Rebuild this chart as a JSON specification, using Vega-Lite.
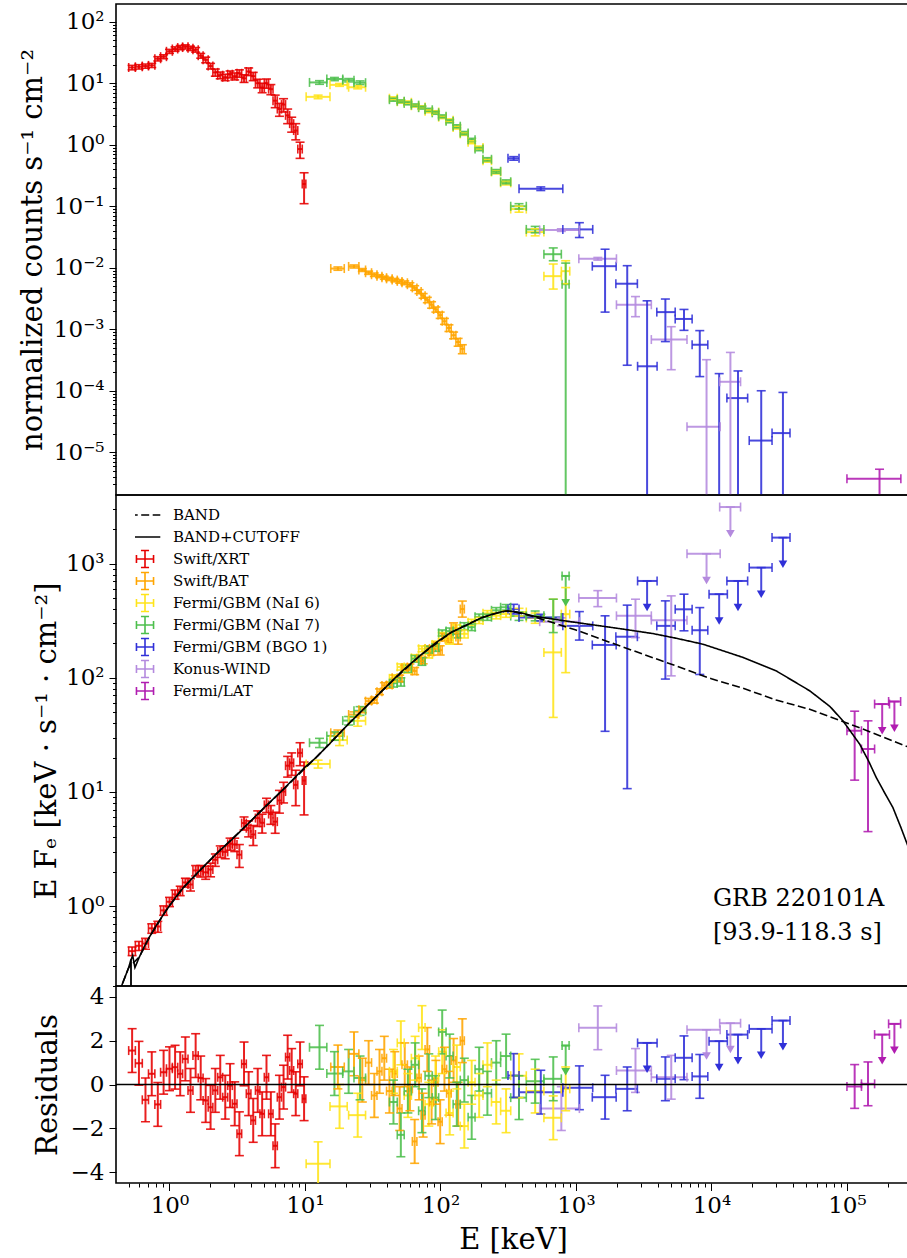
{
"$schema": "https://vega.github.io/schema/vega-lite/v6.json",
"background": "white",
"padding": {"left": 17, "top": 3, "right": 0, "bottom": 0},
"spacing": 0,
"bounds": "flush",
"config": {
  "view": {"stroke": "black", "strokeWidth": 1.6},
  "axis": {"domain": false, "grid": false, "tickColor": "black", "tickWidth": 1, "labelColor": "black", "labelFont": "DejaVu Serif", "labelFontSize": 23, "titleFont": "DejaVu Serif", "titleFontSize": 29, "titleFontWeight": "normal", "titleColor": "black", "labelFlush": false, "labelOverlap": false, "labelBound": false},
  "concat": {"spacing": 0}
},
"datasets": {
"pts": [
{"s":"Swift/XRT","e":0.53,"el":0.5,"eh":0.56,"c":18,"cl":16.5,"ch":19.5,"f":0.404,"fl":0.369,"fh":0.439,"r":1.55,"rl":0.55,"rh":2.55},
{"s":"Swift/XRT","e":0.595,"el":0.56,"eh":0.63,"c":18.5,"cl":17,"ch":20,"f":0.45,"fl":0.409,"fh":0.491,"r":0.97,"rl":-0.03,"rh":1.97},
{"s":"Swift/XRT","e":0.665,"el":0.63,"eh":0.7,"c":19,"cl":17.5,"ch":20.5,"f":0.471,"fl":0.42,"fh":0.522,"r":-0.7,"rl":-1.7,"rh":0.3},
{"s":"Swift/XRT","e":0.74,"el":0.7,"eh":0.78,"c":19.5,"cl":18,"ch":21,"f":0.64,"fl":0.579,"fh":0.701,"r":0.49,"rl":-0.51,"rh":1.49},
{"s":"Swift/XRT","e":0.82,"el":0.78,"eh":0.86,"c":25,"cl":23,"ch":27,"f":0.664,"fl":0.591,"fh":0.737,"r":-0.91,"rl":-1.91,"rh":0.09},
{"s":"Swift/XRT","e":0.905,"el":0.86,"eh":0.95,"c":27,"cl":25,"ch":29,"f":0.919,"fl":0.832,"fh":1.006,"r":0.56,"rl":-0.44,"rh":1.56},
{"s":"Swift/XRT","e":1.0,"el":0.95,"eh":1.05,"c":33,"cl":30.5,"ch":35.5,"f":1.093,"fl":0.991,"fh":1.195,"r":0.72,"rl":-0.28,"rh":1.72},
{"s":"Swift/XRT","e":1.1,"el":1.05,"eh":1.15,"c":36,"cl":33,"ch":39,"f":1.268,"fl":1.15,"fh":1.386,"r":0.79,"rl":-0.21,"rh":1.79},
{"s":"Swift/XRT","e":1.2,"el":1.15,"eh":1.25,"c":38,"cl":35,"ch":41,"f":1.366,"fl":1.236,"fh":1.496,"r":0.49,"rl":-0.51,"rh":1.49},
{"s":"Swift/XRT","e":1.31,"el":1.25,"eh":1.37,"c":39,"cl":36,"ch":42,"f":1.613,"fl":1.469,"fh":1.757,"r":1.17,"rl":0.17,"rh":2.17},
{"s":"Swift/XRT","e":1.43,"el":1.37,"eh":1.49,"c":37,"cl":34,"ch":40,"f":1.549,"fl":1.357,"fh":1.741,"r":-0.27,"rl":-1.27,"rh":0.73},
{"s":"Swift/XRT","e":1.56,"el":1.49,"eh":1.63,"c":35,"cl":32,"ch":38,"f":2.056,"fl":1.843,"fh":2.269,"r":1.32,"rl":0.32,"rh":2.32},
{"s":"Swift/XRT","e":1.7,"el":1.63,"eh":1.77,"c":28,"cl":25.5,"ch":30.5,"f":2.035,"fl":1.799,"fh":2.271,"r":0.3,"rl":-0.7,"rh":1.3},
{"s":"Swift/XRT","e":1.85,"el":1.77,"eh":1.93,"c":24,"cl":21.5,"ch":26.5,"f":1.98,"fl":1.72,"fh":2.24,"r":-0.73,"rl":-1.73,"rh":0.27},
{"s":"Swift/XRT","e":2.01,"el":1.93,"eh":2.09,"c":19,"cl":17,"ch":21,"f":2.095,"fl":1.808,"fh":2.382,"r":-1.04,"rl":-2.04,"rh":-0.04},
{"s":"Swift/XRT","e":2.18,"el":2.09,"eh":2.27,"c":15,"cl":13,"ch":17,"f":2.549,"fl":2.233,"fh":2.865,"r":-0.27,"rl":-1.27,"rh":0.73},
{"s":"Swift/XRT","e":2.37,"el":2.27,"eh":2.47,"c":13.5,"cl":11.8,"ch":15.2,"f":3.022,"fl":2.673,"fh":3.371,"r":0.33,"rl":-0.67,"rh":1.33},
{"s":"Swift/XRT","e":2.58,"el":2.47,"eh":2.69,"c":12.5,"cl":11,"ch":14,"f":2.989,"fl":2.603,"fh":3.375,"r":-0.58,"rl":-1.58,"rh":0.42},
{"s":"Swift/XRT","e":2.8,"el":2.69,"eh":2.91,"c":14,"cl":12.2,"ch":15.8,"f":3.518,"fl":3.093,"fh":3.943,"r":-0.05,"rl":-1.05,"rh":0.95},
{"s":"Swift/XRT","e":3.03,"el":2.91,"eh":3.15,"c":13,"cl":11.3,"ch":14.7,"f":3.474,"fl":3.008,"fh":3.94,"r":-0.88,"rl":-1.88,"rh":0.12},
{"s":"Swift/XRT","e":3.28,"el":3.15,"eh":3.41,"c":14.5,"cl":12.5,"ch":16.5,"f":2.825,"fl":2.185,"fh":3.465,"r":-2.25,"rl":-3.25,"rh":-1.25},
{"s":"Swift/XRT","e":3.55,"el":3.41,"eh":3.69,"c":12,"cl":10.3,"ch":13.7,"f":5.343,"fl":4.641,"fh":6.045,"r":0.94,"rl":-0.06,"rh":1.94},
{"s":"Swift/XRT","e":3.84,"el":3.69,"eh":3.99,"c":15.5,"cl":13.3,"ch":17.7,"f":4.816,"fl":4.045,"fh":5.587,"r":-0.42,"rl":-1.42,"rh":0.58},
{"s":"Swift/XRT","e":4.15,"el":3.99,"eh":4.31,"c":13,"cl":11,"ch":15,"f":4.244,"fl":3.399,"fh":5.089,"r":-1.64,"rl":-2.64,"rh":-0.64},
{"s":"Swift/XRT","e":4.48,"el":4.31,"eh":4.65,"c":10,"cl":8.4,"ch":11.6,"f":5.91,"fl":4.986,"fh":6.834,"r":-0.27,"rl":-1.27,"rh":0.73},
{"s":"Swift/XRT","e":4.83,"el":4.65,"eh":5.01,"c":8.5,"cl":7,"ch":10,"f":5.377,"fl":4.367,"fh":6.387,"r":-1.34,"rl":-2.34,"rh":-0.34},
{"s":"Swift/XRT","e":5.2,"el":5.01,"eh":5.39,"c":10,"cl":8.3,"ch":11.7,"f":7.713,"fl":6.613,"fh":8.813,"r":0.33,"rl":-0.67,"rh":1.33},
{"s":"Swift/XRT","e":5.6,"el":5.39,"eh":5.81,"c":8,"cl":6.5,"ch":9.5,"f":6.412,"fl":5.212,"fh":7.612,"r":-1.34,"rl":-2.34,"rh":-0.34},
{"s":"Swift/XRT","e":6.03,"el":5.81,"eh":6.25,"c":5.2,"cl":4,"ch":6.4,"f":5.5,"fl":4.35,"fh":6.65,"r":-2.8,"rl":-3.8,"rh":-1.8},
{"s":"Swift/XRT","e":6.48,"el":6.25,"eh":6.71,"c":3.8,"cl":2.9,"ch":4.7,"f":8.43,"fl":6.53,"fh":10.33,"r":-0.58,"rl":-1.58,"rh":0.42},
{"s":"Swift/XRT","e":6.95,"el":6.71,"eh":7.19,"c":4.5,"cl":3.4,"ch":5.6,"f":10.09,"fl":8.02,"fh":12.16,"r":-0.12,"rl":-1.12,"rh":0.88},
{"s":"Swift/XRT","e":7.45,"el":7.19,"eh":7.71,"c":3,"cl":2.2,"ch":3.8,"f":17,"fl":13.5,"fh":20.5,"r":1.25,"rl":0.25,"rh":2.25},
{"s":"Swift/XRT","e":7.98,"el":7.71,"eh":8.25,"c":2.2,"cl":1.6,"ch":2.8,"f":18,"fl":14,"fh":22,"r":0.64,"rl":-0.36,"rh":1.64},
{"s":"Swift/XRT","e":8.55,"el":8.25,"eh":8.85,"c":1.7,"cl":1.2,"ch":2.2,"f":11.55,"fl":7.59,"fh":15.51,"r":-0.42,"rl":-1.42,"rh":0.58},
{"s":"Swift/XRT","e":9.2,"el":8.85,"eh":9.55,"c":0.85,"cl":0.6,"ch":1.1,"f":22,"fl":17,"fh":27,"r":0.94,"rl":-0.06,"rh":1.94},
{"s":"Swift/XRT","e":9.85,"el":9.55,"eh":10.15,"c":0.23,"cl":0.11,"ch":0.35,"f":12.6,"fl":6.3,"fh":18.3,"r":-0.65,"rl":-1.65,"rh":0.35},

{"s":"Swift/BAT","e":17.5,"el":15.5,"eh":19.5,"c":0.0097,"cl":0.0091,"ch":0.0103,"f":33.0,"fl":31.1,"fh":34.9,"r":0.8,"rl":-0.2,"rh":1.8},
{"s":"Swift/BAT","e":23,"el":21,"eh":25,"c":0.0105,"cl":0.0099,"ch":0.0111,"f":47.7,"fl":45.1,"fh":50.3,"r":1.4,"rl":0.4,"rh":2.4},
{"s":"Swift/BAT","e":26.5,"el":25,"eh":28,"c":0.0092,"cl":0.0087,"ch":0.0097,"f":52.6,"fl":49.5,"fh":55.7,"r":0.2,"rl":-0.8,"rh":1.2},
{"s":"Swift/BAT","e":29.5,"el":28,"eh":31,"c":0.0083,"cl":0.0078,"ch":0.0088,"f":62.5,"fl":59,"fh":66,"r":1.0,"rl":0,"rh":2},
{"s":"Swift/BAT","e":32.5,"el":31,"eh":34,"c":0.0077,"cl":0.0072,"ch":0.0082,"f":64,"fl":60,"fh":68,"r":-0.5,"rl":-1.5,"rh":0.5},
{"s":"Swift/BAT","e":35.5,"el":34,"eh":37,"c":0.0073,"cl":0.0069,"ch":0.0077,"f":75.6,"fl":71.2,"fh":80,"r":0.6,"rl":-0.4,"rh":1.6},
{"s":"Swift/BAT","e":38.5,"el":37,"eh":40,"c":0.0069,"cl":0.0065,"ch":0.0073,"f":85.8,"fl":81,"fh":90.6,"r":1.2,"rl":0.2,"rh":2.2},
{"s":"Swift/BAT","e":42,"el":40,"eh":44,"c":0.0066,"cl":0.0062,"ch":0.007,"f":86.4,"fl":81.1,"fh":91.7,"r":-0.3,"rl":-1.3,"rh":0.7},
{"s":"Swift/BAT","e":46,"el":44,"eh":48,"c":0.0063,"cl":0.0059,"ch":0.0067,"f":99.9,"fl":94.1,"fh":105.7,"r":0.5,"rl":-0.5,"rh":1.5},
{"s":"Swift/BAT","e":50,"el":48,"eh":52,"c":0.006,"cl":0.0056,"ch":0.0064,"f":99,"fl":92.6,"fh":105.4,"r":-1.1,"rl":-2.1,"rh":-0.1},
{"s":"Swift/BAT","e":54.5,"el":52,"eh":57,"c":0.0057,"cl":0.0053,"ch":0.0061,"f":122.3,"fl":115.3,"fh":129.3,"r":0.9,"rl":-0.1,"rh":1.9},
{"s":"Swift/BAT","e":59.5,"el":57,"eh":62,"c":0.0053,"cl":0.0049,"ch":0.0057,"f":124.5,"fl":116.9,"fh":132.1,"r":-0.2,"rl":-1.2,"rh":0.8},
{"s":"Swift/BAT","e":64.5,"el":62,"eh":67,"c":0.0047,"cl":0.0043,"ch":0.0051,"f":114.8,"fl":106.6,"fh":123,"r":-2.6,"rl":-3.6,"rh":-1.6},
{"s":"Swift/BAT","e":69.5,"el":67,"eh":72,"c":0.0041,"cl":0.0038,"ch":0.0044,"f":148.6,"fl":139.8,"fh":157.4,"r":0.3,"rl":-0.7,"rh":1.3},
{"s":"Swift/BAT","e":74.5,"el":72,"eh":77,"c":0.0035,"cl":0.0032,"ch":0.0038,"f":142,"fl":132.7,"fh":151.3,"r":-1.4,"rl":-2.4,"rh":-0.4},
{"s":"Swift/BAT","e":80,"el":77,"eh":83,"c":0.003,"cl":0.0027,"ch":0.0033,"f":180.8,"fl":170.9,"fh":190.7,"r":1.6,"rl":0.6,"rh":2.6},
{"s":"Swift/BAT","e":86,"el":83,"eh":89,"c":0.0025,"cl":0.0022,"ch":0.0028,"f":168.5,"fl":157.9,"fh":179.1,"r":-0.8,"rl":-1.8,"rh":0.2},
{"s":"Swift/BAT","e":92.5,"el":89,"eh":96,"c":0.0021,"cl":0.0019,"ch":0.0023,"f":191.1,"fl":179.7,"fh":202.5,"r":0.1,"rl":-0.9,"rh":1.1},
{"s":"Swift/BAT","e":99.5,"el":96,"eh":103,"c":0.0017,"cl":0.0015,"ch":0.0019,"f":174.5,"fl":158.3,"fh":190.7,"r":-1.7,"rl":-2.7,"rh":-0.7},
{"s":"Swift/BAT","e":107,"el":103,"eh":111,"c":0.00135,"cl":0.0012,"ch":0.0015,"f":227,"fl":209.8,"fh":244.2,"r":0.7,"rl":-0.3,"rh":1.7},
{"s":"Swift/BAT","e":115.5,"el":111,"eh":120,"c":0.00105,"cl":0.00092,"ch":0.00118,"f":220.7,"fl":202.5,"fh":238.9,"r":-0.4,"rl":-1.4,"rh":0.6},
{"s":"Swift/BAT","e":125,"el":120,"eh":130,"c":0.0008,"cl":0.0007,"ch":0.0009,"f":274,"fl":245,"fh":303,"r":1.1,"rl":0.1,"rh":2.1},
{"s":"Swift/BAT","e":135,"el":130,"eh":140,"c":0.00062,"cl":0.00053,"ch":0.00071,"f":227.5,"fl":196.9,"fh":258.1,"r":-0.9,"rl":-1.9,"rh":0.1},
{"s":"Swift/BAT","e":145,"el":140,"eh":150,"c":0.00048,"cl":0.0004,"ch":0.00056,"f":400,"fl":340,"fh":470,"r":2.0,"rl":1.0,"rh":3.0},

{"s":"Fermi/GBM (NaI 6)","e":12.5,"el":10.2,"eh":15.3,"c":6.0,"cl":5.6,"ch":6.4,"f":17.6,"fl":16.2,"fh":19,"r":-3.62,"rl":-4.62,"rh":-2.62},
{"s":"Fermi/GBM (NaI 6)","e":18,"el":15.3,"eh":20.5,"c":9.4,"cl":8.9,"ch":9.9,"f":28.5,"fl":25.5,"fh":31.5,"r":-1.0,"rl":-2.0,"rh":0},
{"s":"Fermi/GBM (NaI 6)","e":24.5,"el":21,"eh":28,"c":8.6,"cl":8.1,"ch":9.1,"f":42,"fl":37.7,"fh":46.3,"r":-1.4,"rl":-2.4,"rh":-0.4},
{"s":"Fermi/GBM (NaI 6)","e":45,"el":42,"eh":48,"c":5.7,"cl":5.4,"ch":6.0,"f":99,"fl":92.3,"fh":105.6,"r":0.6,"rl":-0.4,"rh":1.6},
{"s":"Fermi/GBM (NaI 6)","e":51,"el":48,"eh":54,"c":5.0,"cl":4.75,"ch":5.25,"f":124.6,"fl":116.9,"fh":132.3,"r":1.9,"rl":0.9,"rh":2.9},
{"s":"Fermi/GBM (NaI 6)","e":57.5,"el":54,"eh":61,"c":4.9,"cl":4.65,"ch":5.15,"f":118.7,"fl":110.1,"fh":127.3,"r":-0.5,"rl":-1.5,"rh":0.5},
{"s":"Fermi/GBM (NaI 6)","e":65,"el":61,"eh":69,"c":4.3,"cl":4.1,"ch":4.5,"f":149.6,"fl":139.9,"fh":159.3,"r":1.2,"rl":0.2,"rh":2.2},
{"s":"Fermi/GBM (NaI 6)","e":73,"el":69,"eh":77,"c":4.1,"cl":3.9,"ch":4.3,"f":179.7,"fl":169.1,"fh":190.3,"r":2.6,"rl":1.6,"rh":3.6},
{"s":"Fermi/GBM (NaI 6)","e":82,"el":77,"eh":87,"c":3.5,"cl":3.32,"ch":3.68,"f":161.2,"fl":149.2,"fh":173.2,"r":-0.9,"rl":-1.9,"rh":0.1},
{"s":"Fermi/GBM (NaI 6)","e":92,"el":87,"eh":97,"c":3.4,"cl":3.23,"ch":3.57,"f":196,"fl":182.6,"fh":209.4,"r":0.3,"rl":-0.7,"rh":1.3},
{"s":"Fermi/GBM (NaI 6)","e":103,"el":97,"eh":110,"c":2.8,"cl":2.66,"ch":2.94,"f":234.3,"fl":219.5,"fh":249.1,"r":1.5,"rl":0.5,"rh":2.5},
{"s":"Fermi/GBM (NaI 6)","e":117,"el":110,"eh":124,"c":2.5,"cl":2.37,"ch":2.63,"f":213.6,"fl":197.1,"fh":230.1,"r":-1.3,"rl":-2.3,"rh":-0.3},
{"s":"Fermi/GBM (NaI 6)","e":132,"el":124,"eh":140,"c":1.9,"cl":1.8,"ch":2.0,"f":272.4,"fl":254.4,"fh":290.4,"r":0.8,"rl":-0.2,"rh":1.8},
{"s":"Fermi/GBM (NaI 6)","e":150,"el":140,"eh":160,"c":1.5,"cl":1.42,"ch":1.58,"f":242.8,"fl":223.2,"fh":262.4,"r":-1.9,"rl":-2.9,"rh":-0.9},
{"s":"Fermi/GBM (NaI 6)","e":170,"el":160,"eh":180,"c":1.1,"cl":1.04,"ch":1.16,"f":306.8,"fl":288.5,"fh":325.1,"r":0.1,"rl":-0.9,"rh":1.1},
{"s":"Fermi/GBM (NaI 6)","e":193,"el":180,"eh":206,"c":0.9,"cl":0.85,"ch":0.95,"f":318.2,"fl":298.5,"fh":337.9,"r":-0.5,"rl":-1.5,"rh":0.5},
{"s":"Fermi/GBM (NaI 6)","e":222,"el":206,"eh":238,"c":0.55,"cl":0.52,"ch":0.58,"f":366.8,"fl":345.9,"fh":387.7,"r":0.9,"rl":-0.1,"rh":1.9},
{"s":"Fermi/GBM (NaI 6)","e":258,"el":238,"eh":278,"c":0.36,"cl":0.335,"ch":0.385,"f":350.3,"fl":328.3,"fh":372.3,"r":-0.8,"rl":-1.8,"rh":0.2},
{"s":"Fermi/GBM (NaI 6)","e":305,"el":278,"eh":330,"c":0.24,"cl":0.222,"ch":0.258,"f":361.9,"fl":338.9,"fh":384.9,"r":-1.2,"rl":-2.2,"rh":-0.2},
{"s":"Fermi/GBM (NaI 6)","e":380,"el":330,"eh":430,"c":0.09,"cl":0.08,"ch":0.1,"f":376.7,"fl":347.5,"fh":405.9,"r":0.4,"rl":-0.6,"rh":1.4},
{"s":"Fermi/GBM (NaI 6)","e":500,"el":430,"eh":580,"c":0.038,"cl":0.033,"ch":0.043,"f":334.7,"fl":300.2,"fh":369.2,"r":-0.3,"rl":-1.3,"rh":0.7},
{"s":"Fermi/GBM (NaI 6)","e":680,"el":580,"eh":780,"c":0.0073,"cl":0.0045,"ch":0.0115,"f":167,"fl":45,"fh":488,"r":-1.52,"rl":-2.52,"rh":-0.52},
{"s":"Fermi/GBM (NaI 6)","e":840,"el":780,"eh":900,"c":0.0088,"cl":0.0055,"ch":0.013,"f":361,"fl":111,"fh":617,"r":-0.2,"rl":-1.2,"rh":0.8},

{"s":"Fermi/GBM (NaI 7)","e":12.8,"el":10.8,"eh":14.5,"c":10.3,"cl":9.6,"ch":11,"f":27,"fl":24.5,"fh":29.5,"r":1.7,"rl":0.7,"rh":2.7},
{"s":"Fermi/GBM (NaI 7)","e":16.5,"el":14.5,"eh":19,"c":11.7,"cl":11,"ch":12.4,"f":31,"fl":28.4,"fh":33.6,"r":0.5,"rl":-0.5,"rh":1.5},
{"s":"Fermi/GBM (NaI 7)","e":21,"el":19,"eh":23,"c":11.2,"cl":10.5,"ch":11.9,"f":42.2,"fl":38.6,"fh":45.8,"r":0.6,"rl":-0.4,"rh":1.6},
{"s":"Fermi/GBM (NaI 7)","e":25.5,"el":23,"eh":28,"c":10.2,"cl":9.5,"ch":10.9,"f":51.4,"fl":46.9,"fh":55.9,"r":0.3,"rl":-0.7,"rh":1.3},
{"s":"Fermi/GBM (NaI 7)","e":45,"el":42,"eh":48,"c":5.4,"cl":5.1,"ch":5.7,"f":89.7,"fl":83,"fh":96.4,"r":-0.8,"rl":-1.8,"rh":0.2},
{"s":"Fermi/GBM (NaI 7)","e":51,"el":48,"eh":54,"c":5.1,"cl":4.85,"ch":5.35,"f":92.3,"fl":84.6,"fh":100,"r":-2.3,"rl":-3.3,"rh":-1.3},
{"s":"Fermi/GBM (NaI 7)","e":57.5,"el":54,"eh":61,"c":4.7,"cl":4.45,"ch":4.95,"f":120.4,"fl":111.8,"fh":129,"r":-0.3,"rl":-1.3,"rh":0.7},
{"s":"Fermi/GBM (NaI 7)","e":65,"el":61,"eh":69,"c":4.4,"cl":4.2,"ch":4.6,"f":146.7,"fl":137,"fh":156.4,"r":0.9,"rl":-0.1,"rh":1.9},
{"s":"Fermi/GBM (NaI 7)","e":73,"el":69,"eh":77,"c":4.0,"cl":3.8,"ch":4.2,"f":139.3,"fl":128.7,"fh":149.9,"r":-1.2,"rl":-2.2,"rh":-0.2},
{"s":"Fermi/GBM (NaI 7)","e":82,"el":77,"eh":87,"c":3.7,"cl":3.5,"ch":3.9,"f":176.8,"fl":164.8,"fh":188.8,"r":0.4,"rl":-0.6,"rh":1.4},
{"s":"Fermi/GBM (NaI 7)","e":92,"el":87,"eh":97,"c":3.3,"cl":3.13,"ch":3.47,"f":184,"fl":170.6,"fh":197.4,"r":-0.6,"rl":-1.6,"rh":0.4},
{"s":"Fermi/GBM (NaI 7)","e":103,"el":97,"eh":110,"c":2.9,"cl":2.75,"ch":3.05,"f":247.5,"fl":232.7,"fh":262.3,"r":2.4,"rl":1.4,"rh":3.4},
{"s":"Fermi/GBM (NaI 7)","e":117,"el":110,"eh":124,"c":2.4,"cl":2.27,"ch":2.53,"f":256.4,"fl":239.9,"fh":272.9,"r":1.3,"rl":0.3,"rh":2.3},
{"s":"Fermi/GBM (NaI 7)","e":132,"el":124,"eh":140,"c":2.0,"cl":1.89,"ch":2.11,"f":241.8,"fl":223.8,"fh":259.8,"r":-0.9,"rl":-1.9,"rh":0.1},
{"s":"Fermi/GBM (NaI 7)","e":150,"el":140,"eh":160,"c":1.55,"cl":1.46,"ch":1.64,"f":284,"fl":264.4,"fh":303.6,"r":0.2,"rl":-0.8,"rh":1.2},
{"s":"Fermi/GBM (NaI 7)","e":170,"el":160,"eh":180,"c":1.2,"cl":1.13,"ch":1.27,"f":277.6,"fl":259.3,"fh":295.9,"r":-1.5,"rl":-2.5,"rh":-0.5},
{"s":"Fermi/GBM (NaI 7)","e":193,"el":180,"eh":206,"c":0.85,"cl":0.8,"ch":0.9,"f":341.8,"fl":322.1,"fh":361.5,"r":0.7,"rl":-0.3,"rh":1.7},
{"s":"Fermi/GBM (NaI 7)","e":222,"el":206,"eh":238,"c":0.58,"cl":0.545,"ch":0.615,"f":339.6,"fl":318.7,"fh":360.5,"r":-0.4,"rl":-1.4,"rh":0.6},
{"s":"Fermi/GBM (NaI 7)","e":258,"el":238,"eh":278,"c":0.37,"cl":0.345,"ch":0.395,"f":390,"fl":368,"fh":412,"r":1.0,"rl":0,"rh":2},
{"s":"Fermi/GBM (NaI 7)","e":305,"el":278,"eh":330,"c":0.25,"cl":0.232,"ch":0.268,"f":415,"fl":392,"fh":438,"r":1.3,"rl":0.3,"rh":2.3},
{"s":"Fermi/GBM (NaI 7)","e":380,"el":330,"eh":430,"c":0.1,"cl":0.09,"ch":0.11,"f":347.5,"fl":318.3,"fh":376.7,"r":-0.6,"rl":-1.6,"rh":0.4},
{"s":"Fermi/GBM (NaI 7)","e":500,"el":430,"eh":580,"c":0.042,"cl":0.037,"ch":0.047,"f":350,"fl":315.5,"fh":384.5,"r":0.15,"rl":-0.85,"rh":1.15},
{"s":"Fermi/GBM (NaI 7)","e":680,"el":580,"eh":780,"c":0.0166,"cl":0.013,"ch":0.021,"f":337,"fl":249,"fh":488,"r":0.26,"rl":-0.74,"rh":1.26},
{"s":"Fermi/GBM (NaI 7)","e":840,"el":790,"eh":890,"c":0.0054,"cl":1e-7,"ch":0.0119,"f":780,"fl":455,"fh":780,"r":1.78,"rl":0.58,"rh":1.78,"u":1},

{"s":"Fermi/GBM (BGO 1)","e":347,"el":315,"eh":380,"c":0.6,"cl":0.56,"ch":0.64,"f":400,"fl":362,"fh":440,"r":0.41,"rl":-0.59,"rh":1.41},
{"s":"Fermi/GBM (BGO 1)","e":550,"el":380,"eh":800,"c":0.193,"cl":0.18,"ch":0.206,"f":337,"fl":315,"fh":360,"r":-0.35,"rl":-1.35,"rh":0.65},
{"s":"Fermi/GBM (BGO 1)","e":1060,"el":800,"eh":1330,"c":0.042,"cl":0.031,"ch":0.054,"f":285,"fl":214,"fh":380,"r":-0.15,"rl":-1.15,"rh":0.85},
{"s":"Fermi/GBM (BGO 1)","e":1640,"el":1320,"eh":1980,"c":0.0106,"cl":0.0019,"ch":0.02,"f":194,"fl":34,"fh":349,"r":-0.58,"rl":-1.58,"rh":0.42},
{"s":"Fermi/GBM (BGO 1)","e":2390,"el":1970,"eh":2840,"c":0.0055,"cl":0.00026,"ch":0.0108,"f":229,"fl":10.7,"fh":433,"r":-0.2,"rl":-1.2,"rh":0.8},
{"s":"Fermi/GBM (BGO 1)","e":3350,"el":2850,"eh":3970,"c":0.00025,"cl":1e-7,"ch":0.0029,"f":705,"fl":412,"fh":705,"r":1.9,"rl":0.7,"rh":1.9,"u":1},
{"s":"Fermi/GBM (BGO 1)","e":4570,"el":3950,"eh":5400,"c":0.0019,"cl":0.00063,"ch":0.0031,"f":285,"fl":97.5,"fh":472,"r":0.26,"rl":-0.74,"rh":1.26},
{"s":"Fermi/GBM (BGO 1)","e":6270,"el":5400,"eh":7200,"c":0.00147,"cl":0.00096,"ch":0.0021,"f":398,"fl":258,"fh":540,"r":1.22,"rl":0.22,"rh":2.22},
{"s":"Fermi/GBM (BGO 1)","e":8200,"el":7200,"eh":9400,"c":0.00056,"cl":0.00017,"ch":0.00095,"f":261,"fl":107,"fh":412,"r":0.37,"rl":-0.63,"rh":1.37},
{"s":"Fermi/GBM (BGO 1)","e":11400,"el":9600,"eh":13100,"c":1e-7,"cl":1e-7,"ch":0.00019,"f":540,"fl":315,"fh":540,"r":1.98,"rl":0.78,"rh":1.98,"u":1},
{"s":"Fermi/GBM (BGO 1)","e":15700,"el":13000,"eh":18500,"c":7.6e-5,"cl":1e-7,"ch":0.00021,"f":705,"fl":412,"fh":705,"r":2.28,"rl":1.08,"rh":2.28,"u":1},
{"s":"Fermi/GBM (BGO 1)","e":23300,"el":19000,"eh":28000,"c":1.55e-5,"cl":1e-7,"ch":0.0001,"f":923,"fl":539,"fh":923,"r":2.54,"rl":1.34,"rh":2.54,"u":1},
{"s":"Fermi/GBM (BGO 1)","e":33700,"el":28000,"eh":38000,"c":2.05e-5,"cl":1e-7,"ch":9.4e-5,"f":1690,"fl":987,"fh":1690,"r":2.92,"rl":1.72,"rh":2.92,"u":1},

{"s":"Konus-WIND","e":780,"el":540,"eh":1060,"c":0.041,"cl":0.039,"ch":0.043,"f":310,"fl":285,"fh":335,"r":-1.1,"rl":-2.1,"rh":-0.1},
{"s":"Konus-WIND","e":1450,"el":1050,"eh":1990,"c":0.014,"cl":0.0133,"ch":0.0147,"f":500,"fl":420,"fh":580,"r":2.59,"rl":1.59,"rh":3.59},
{"s":"Konus-WIND","e":2750,"el":1990,"eh":3600,"c":0.0025,"cl":0.0016,"ch":0.0034,"f":349,"fl":225,"fh":488,"r":0.64,"rl":-0.36,"rh":1.64},
{"s":"Konus-WIND","e":5050,"el":3600,"eh":6600,"c":0.00068,"cl":0.00022,"ch":0.0011,"f":320,"fl":104,"fh":522,"r":0.33,"rl":-0.67,"rh":1.33},
{"s":"Konus-WIND","e":9200,"el":6600,"eh":11600,"c":2.6e-5,"cl":1e-7,"ch":0.00032,"f":1220,"fl":712,"fh":1220,"r":2.5,"rl":1.3,"rh":2.5,"u":1},
{"s":"Konus-WIND","e":13800,"el":11500,"eh":16400,"c":0.00014,"cl":1e-7,"ch":0.00042,"f":3130,"fl":1828,"fh":3130,"r":2.8,"rl":1.6,"rh":2.8,"u":1},

{"s":"Fermi/LAT","e":174000,"el":100000,"eh":250000,"c":3.7e-6,"cl":1e-7,"ch":5.3e-6},
{"s":"Fermi/LAT","e":114000,"el":100000,"eh":128000,"f":34.4,"fl":12.7,"fh":51,"r":-0.09,"rl":-1.09,"rh":0.91},
{"s":"Fermi/LAT","e":143000,"el":128000,"eh":160000,"f":23.8,"fl":4.5,"fh":42,"r":0.03,"rl":-0.97,"rh":1.03},
{"s":"Fermi/LAT","e":182000,"el":160000,"eh":206000,"f":58.9,"fl":34.4,"fh":58.9,"r":2.28,"rl":1.08,"rh":2.28,"u":1},
{"s":"Fermi/LAT","e":224000,"el":203000,"eh":249000,"f":62,"fl":36.2,"fh":62,"r":2.77,"rl":1.57,"rh":2.77,"u":1}
],
"model": [
{"s":"BAND+CUTOFF","e":0.42,"f":0.17},{"s":"BAND+CUTOFF","e":0.5,"f":0.29},{"s":"BAND+CUTOFF","e":0.519,"f":0.34},{"s":"BAND+CUTOFF","e":0.5195,"f":0.005},{"s":"BAND+CUTOFF","e":0.521,"f":0.34},{"s":"BAND+CUTOFF","e":0.535,"f":0.37},{"s":"BAND+CUTOFF","e":0.556,"f":0.29},{"s":"BAND+CUTOFF","e":0.6,"f":0.36},{"s":"BAND+CUTOFF","e":0.65,"f":0.44},{"s":"BAND+CUTOFF","e":0.71,"f":0.535},{"s":"BAND+CUTOFF","e":0.8,"f":0.68},{"s":"BAND+CUTOFF","e":0.94,"f":0.91},{"s":"BAND+CUTOFF","e":1.1,"f":1.18},{"s":"BAND+CUTOFF","e":1.25,"f":1.43},{"s":"BAND+CUTOFF","e":1.6,"f":1.95},{"s":"BAND+CUTOFF","e":2.2,"f":2.85},{"s":"BAND+CUTOFF","e":3.0,"f":4.0},{"s":"BAND+CUTOFF","e":3.88,"f":5.4},{"s":"BAND+CUTOFF","e":5.0,"f":7.3},{"s":"BAND+CUTOFF","e":6.84,"f":10.4},{"s":"BAND+CUTOFF","e":10,"f":16.5},{"s":"BAND+CUTOFF","e":12.05,"f":20},{"s":"BAND+CUTOFF","e":15,"f":26},{"s":"BAND+CUTOFF","e":21.2,"f":40},{"s":"BAND+CUTOFF","e":30,"f":60},{"s":"BAND+CUTOFF","e":40,"f":84},{"s":"BAND+CUTOFF","e":51,"f":112},{"s":"BAND+CUTOFF","e":70,"f":155},{"s":"BAND+CUTOFF","e":93,"f":204},{"s":"BAND+CUTOFF","e":120,"f":250},{"s":"BAND+CUTOFF","e":164,"f":298},{"s":"BAND+CUTOFF","e":200,"f":335},{"s":"BAND+CUTOFF","e":244,"f":362},{"s":"BAND+CUTOFF","e":280,"f":378},{"s":"BAND+CUTOFF","e":310,"f":385},{"s":"BAND+CUTOFF","e":350,"f":380},{"s":"BAND+CUTOFF","e":400,"f":368},{"s":"BAND+CUTOFF","e":500,"f":345},{"s":"BAND+CUTOFF","e":700,"f":325},{"s":"BAND+CUTOFF","e":1005,"f":305},{"s":"BAND+CUTOFF","e":2000,"f":272},{"s":"BAND+CUTOFF","e":3700,"f":244},{"s":"BAND+CUTOFF","e":5500,"f":222},{"s":"BAND+CUTOFF","e":8650,"f":197},{"s":"BAND+CUTOFF","e":17060,"f":151},{"s":"BAND+CUTOFF","e":30060,"f":115},{"s":"BAND+CUTOFF","e":53080,"f":77},{"s":"BAND+CUTOFF","e":75000,"f":56},{"s":"BAND+CUTOFF","e":93370,"f":42},{"s":"BAND+CUTOFF","e":124100,"f":26.3},{"s":"BAND+CUTOFF","e":145000,"f":18.5},{"s":"BAND+CUTOFF","e":164500,"f":13.4},{"s":"BAND+CUTOFF","e":190000,"f":9.8},{"s":"BAND+CUTOFF","e":218500,"f":7.3},{"s":"BAND+CUTOFF","e":250000,"f":4.9},{"s":"BAND+CUTOFF","e":290300,"f":3.07},{"s":"BAND+CUTOFF","e":330000,"f":1.7},
{"s":"BAND","e":0.42,"f":0.17},{"s":"BAND","e":0.5,"f":0.29},{"s":"BAND","e":0.6,"f":0.36},{"s":"BAND","e":0.71,"f":0.535},{"s":"BAND","e":0.94,"f":0.91},{"s":"BAND","e":1.25,"f":1.43},{"s":"BAND","e":2.2,"f":2.85},{"s":"BAND","e":3.88,"f":5.4},{"s":"BAND","e":6.84,"f":10.4},{"s":"BAND","e":12.05,"f":20},{"s":"BAND","e":21.2,"f":40},{"s":"BAND","e":40,"f":84},{"s":"BAND","e":70,"f":155},{"s":"BAND","e":120,"f":250},{"s":"BAND","e":200,"f":335},{"s":"BAND","e":280,"f":378},{"s":"BAND","e":310,"f":385},{"s":"BAND","e":350,"f":378},{"s":"BAND","e":400,"f":365},{"s":"BAND","e":500,"f":340},{"s":"BAND","e":700,"f":300},{"s":"BAND","e":1000,"f":262},{"s":"BAND","e":1773,"f":205},{"s":"BAND","e":3700,"f":150},{"s":"BAND","e":5500,"f":127},{"s":"BAND","e":10000,"f":98},{"s":"BAND","e":17060,"f":81},{"s":"BAND","e":30000,"f":64},{"s":"BAND","e":53080,"f":53},{"s":"BAND","e":124100,"f":36.5},{"s":"BAND","e":290300,"f":24.5},{"s":"BAND","e":330000,"f":23.3}
]
},
"resolve": {"scale": {"color": "independent", "x": "independent", "y": "independent"}, "legend": {"color": "independent"}},
"vconcat": [
{
  "width": 794, "height": 491,
  "data": {"name": "pts"},
  "transform": [{"filter": "isValid(datum.c)"}],
  "layer": [
    {"mark": {"type": "rule", "clip": true, "strokeWidth": 2, "opacity": 0.88},
     "encoding": {
       "x": {"field": "el", "type": "quantitative", "scale": {"type": "log", "domain": [0.403, 292000], "nice": false}, "axis": null},
       "x2": {"field": "eh"},
       "y": {"field": "c", "type": "quantitative", "scale": {"type": "log", "domain": [2.02e-6, 194], "nice": false},
             "axis": {"title": "normalized counts s⁻¹ cm⁻²", "titlePadding": 6, "labelPadding": 5,
               "values": [3e-6,4e-6,5e-6,6e-6,7e-6,8e-6,9e-6,1e-5,2e-5,3e-5,4e-5,5e-5,6e-5,7e-5,8e-5,9e-5,1e-4,2e-4,3e-4,4e-4,5e-4,6e-4,7e-4,8e-4,9e-4,0.001,0.002,0.003,0.004,0.005,0.006,0.007,0.008,0.009,0.01,0.02,0.03,0.04,0.05,0.06,0.07,0.08,0.09,0.1,0.2,0.3,0.4,0.5,0.6,0.7,0.8,0.9,1,2,3,4,5,6,7,8,9,10,20,30,40,50,60,70,80,90,100],
               "labelExpr": "abs(log(datum.value)/LN10 - round(log(datum.value)/LN10)) < 0.01 ? '10' + ['⁻⁵','⁻⁴','⁻³','⁻²','⁻¹','⁰','¹','²','³','⁴','⁵'][round(log(datum.value)/LN10) + 5] : ''",
               "tickSize": {"condition": {"test": "abs(log(datum.value)/LN10 - round(log(datum.value)/LN10)) < 0.01", "value": 7}, "value": 3.5}}},
       "color": {"field": "s", "type": "nominal", "legend": null, "scale": {"domain": ["BAND","BAND+CUTOFF","Swift/XRT","Swift/BAT","Fermi/GBM (NaI 6)","Fermi/GBM (NaI 7)","Fermi/GBM (BGO 1)","Konus-WIND","Fermi/LAT"], "range": ["#000000","#000000","#e60000","#ffa500","#ffe419","#4dbf4d","#3030d8","#b48ade","#b01cb0"]}}
     }},
    {"mark": {"type": "rule", "clip": true, "strokeWidth": 2, "opacity": 0.88},
     "encoding": {
       "x": {"field": "e", "type": "quantitative", "scale": {"type": "log", "domain": [0.403, 292000], "nice": false}, "axis": null},
       "y": {"field": "cl", "type": "quantitative", "scale": {"type": "log", "domain": [2.02e-6, 194], "nice": false}},
       "y2": {"field": "ch"},
       "color": {"field": "s", "type": "nominal", "legend": null, "scale": {"domain": ["BAND","BAND+CUTOFF","Swift/XRT","Swift/BAT","Fermi/GBM (NaI 6)","Fermi/GBM (NaI 7)","Fermi/GBM (BGO 1)","Konus-WIND","Fermi/LAT"], "range": ["#000000","#000000","#e60000","#ffa500","#ffe419","#4dbf4d","#3030d8","#b48ade","#b01cb0"]}}
     }},
    {"mark": {"type": "tick", "orient": "horizontal", "size": 9, "thickness": 1.6, "clip": true, "opacity": 0.88},
     "encoding": {
       "x": {"field": "e", "type": "quantitative", "scale": {"type": "log", "domain": [0.403, 292000], "nice": false}, "axis": null},
       "y": {"field": "cl", "type": "quantitative", "scale": {"type": "log", "domain": [2.02e-6, 194], "nice": false}},
       "color": {"field": "s", "type": "nominal", "legend": null, "scale": {"domain": ["BAND","BAND+CUTOFF","Swift/XRT","Swift/BAT","Fermi/GBM (NaI 6)","Fermi/GBM (NaI 7)","Fermi/GBM (BGO 1)","Konus-WIND","Fermi/LAT"], "range": ["#000000","#000000","#e60000","#ffa500","#ffe419","#4dbf4d","#3030d8","#b48ade","#b01cb0"]}}
     }},
    {"mark": {"type": "tick", "orient": "horizontal", "size": 9, "thickness": 1.6, "clip": true, "opacity": 0.88},
     "encoding": {
       "x": {"field": "e", "type": "quantitative", "scale": {"type": "log", "domain": [0.403, 292000], "nice": false}, "axis": null},
       "y": {"field": "ch", "type": "quantitative", "scale": {"type": "log", "domain": [2.02e-6, 194], "nice": false}},
       "color": {"field": "s", "type": "nominal", "legend": null, "scale": {"domain": ["BAND","BAND+CUTOFF","Swift/XRT","Swift/BAT","Fermi/GBM (NaI 6)","Fermi/GBM (NaI 7)","Fermi/GBM (BGO 1)","Konus-WIND","Fermi/LAT"], "range": ["#000000","#000000","#e60000","#ffa500","#ffe419","#4dbf4d","#3030d8","#b48ade","#b01cb0"]}}
     }},
    {"mark": {"type": "tick", "orient": "vertical", "size": 9, "thickness": 1.6, "clip": true, "opacity": 0.88},
     "encoding": {
       "x": {"field": "el", "type": "quantitative", "scale": {"type": "log", "domain": [0.403, 292000], "nice": false}, "axis": null},
       "y": {"field": "c", "type": "quantitative", "scale": {"type": "log", "domain": [2.02e-6, 194], "nice": false}},
       "color": {"field": "s", "type": "nominal", "legend": null, "scale": {"domain": ["BAND","BAND+CUTOFF","Swift/XRT","Swift/BAT","Fermi/GBM (NaI 6)","Fermi/GBM (NaI 7)","Fermi/GBM (BGO 1)","Konus-WIND","Fermi/LAT"], "range": ["#000000","#000000","#e60000","#ffa500","#ffe419","#4dbf4d","#3030d8","#b48ade","#b01cb0"]}}
     }},
    {"mark": {"type": "tick", "orient": "vertical", "size": 9, "thickness": 1.6, "clip": true, "opacity": 0.88},
     "encoding": {
       "x": {"field": "eh", "type": "quantitative", "scale": {"type": "log", "domain": [0.403, 292000], "nice": false}, "axis": null},
       "y": {"field": "c", "type": "quantitative", "scale": {"type": "log", "domain": [2.02e-6, 194], "nice": false}},
       "color": {"field": "s", "type": "nominal", "legend": null, "scale": {"domain": ["BAND","BAND+CUTOFF","Swift/XRT","Swift/BAT","Fermi/GBM (NaI 6)","Fermi/GBM (NaI 7)","Fermi/GBM (BGO 1)","Konus-WIND","Fermi/LAT"], "range": ["#000000","#000000","#e60000","#ffa500","#ffe419","#4dbf4d","#3030d8","#b48ade","#b01cb0"]}}
     }}
  ]
},
{
  "width": 794, "height": 491,
  "layer": [
    {"data": {"name": "pts"},
     "transform": [{"filter": "isValid(datum.f)"}],
     "layer": [
      {"mark": {"type": "rule", "clip": true, "strokeWidth": 2, "opacity": 0.88},
       "encoding": {
         "x": {"field": "el", "type": "quantitative", "scale": {"type": "log", "domain": [0.403, 292000], "nice": false}, "axis": null},
         "x2": {"field": "eh"},
         "y": {"field": "f", "type": "quantitative", "scale": {"type": "log", "domain": [0.2, 3990], "nice": false},
               "axis": {"title": "E Fₑ  [keV · s⁻¹ · cm⁻²]", "titlePadding": 4, "labelPadding": 5,
                 "values": [0.2,0.3,0.4,0.5,0.6,0.7,0.8,0.9,1,2,3,4,5,6,7,8,9,10,20,30,40,50,60,70,80,90,100,200,300,400,500,600,700,800,900,1000,2000,3000],
                 "labelExpr": "abs(log(datum.value)/LN10 - round(log(datum.value)/LN10)) < 0.01 ? '10' + ['⁻⁵','⁻⁴','⁻³','⁻²','⁻¹','⁰','¹','²','³','⁴','⁵'][round(log(datum.value)/LN10) + 5] : ''",
                 "tickSize": {"condition": {"test": "abs(log(datum.value)/LN10 - round(log(datum.value)/LN10)) < 0.01", "value": 7}, "value": 3.5}}},
         "color": {"field": "s", "type": "nominal", "scale": {"domain": ["BAND","BAND+CUTOFF","Swift/XRT","Swift/BAT","Fermi/GBM (NaI 6)","Fermi/GBM (NaI 7)","Fermi/GBM (BGO 1)","Konus-WIND","Fermi/LAT"], "range": ["#000000","#000000","#e60000","#ffa500","#ffe419","#4dbf4d","#3030d8","#b48ade","#b01cb0"]}}
       }},
      {"mark": {"type": "rule", "clip": true, "strokeWidth": 2, "opacity": 0.88},
       "encoding": {
         "x": {"field": "e", "type": "quantitative", "scale": {"type": "log", "domain": [0.403, 292000], "nice": false}, "axis": null},
         "y": {"field": "fl", "type": "quantitative", "scale": {"type": "log", "domain": [0.2, 3990], "nice": false}},
         "y2": {"field": "fh"},
         "color": {"field": "s", "type": "nominal", "scale": {"domain": ["BAND","BAND+CUTOFF","Swift/XRT","Swift/BAT","Fermi/GBM (NaI 6)","Fermi/GBM (NaI 7)","Fermi/GBM (BGO 1)","Konus-WIND","Fermi/LAT"], "range": ["#000000","#000000","#e60000","#ffa500","#ffe419","#4dbf4d","#3030d8","#b48ade","#b01cb0"]}}
       }},
      {"transform": [{"filter": "datum.u != 1"}],
       "mark": {"type": "tick", "orient": "horizontal", "size": 9, "thickness": 1.6, "clip": true, "opacity": 0.88},
       "encoding": {
         "x": {"field": "e", "type": "quantitative", "scale": {"type": "log", "domain": [0.403, 292000], "nice": false}, "axis": null},
         "y": {"field": "fl", "type": "quantitative", "scale": {"type": "log", "domain": [0.2, 3990], "nice": false}},
         "color": {"field": "s", "type": "nominal", "scale": {"domain": ["BAND","BAND+CUTOFF","Swift/XRT","Swift/BAT","Fermi/GBM (NaI 6)","Fermi/GBM (NaI 7)","Fermi/GBM (BGO 1)","Konus-WIND","Fermi/LAT"], "range": ["#000000","#000000","#e60000","#ffa500","#ffe419","#4dbf4d","#3030d8","#b48ade","#b01cb0"]}}
       }},
      {"mark": {"type": "tick", "orient": "horizontal", "size": 9, "thickness": 1.6, "clip": true, "opacity": 0.88},
       "encoding": {
         "x": {"field": "e", "type": "quantitative", "scale": {"type": "log", "domain": [0.403, 292000], "nice": false}, "axis": null},
         "y": {"field": "fh", "type": "quantitative", "scale": {"type": "log", "domain": [0.2, 3990], "nice": false}},
         "color": {"field": "s", "type": "nominal", "scale": {"domain": ["BAND","BAND+CUTOFF","Swift/XRT","Swift/BAT","Fermi/GBM (NaI 6)","Fermi/GBM (NaI 7)","Fermi/GBM (BGO 1)","Konus-WIND","Fermi/LAT"], "range": ["#000000","#000000","#e60000","#ffa500","#ffe419","#4dbf4d","#3030d8","#b48ade","#b01cb0"]}}
       }},
      {"mark": {"type": "tick", "orient": "vertical", "size": 9, "thickness": 1.6, "clip": true, "opacity": 0.88},
       "encoding": {
         "x": {"field": "el", "type": "quantitative", "scale": {"type": "log", "domain": [0.403, 292000], "nice": false}, "axis": null},
         "y": {"field": "f", "type": "quantitative", "scale": {"type": "log", "domain": [0.2, 3990], "nice": false}},
         "color": {"field": "s", "type": "nominal", "scale": {"domain": ["BAND","BAND+CUTOFF","Swift/XRT","Swift/BAT","Fermi/GBM (NaI 6)","Fermi/GBM (NaI 7)","Fermi/GBM (BGO 1)","Konus-WIND","Fermi/LAT"], "range": ["#000000","#000000","#e60000","#ffa500","#ffe419","#4dbf4d","#3030d8","#b48ade","#b01cb0"]}}
       }},
      {"mark": {"type": "tick", "orient": "vertical", "size": 9, "thickness": 1.6, "clip": true, "opacity": 0.88},
       "encoding": {
         "x": {"field": "eh", "type": "quantitative", "scale": {"type": "log", "domain": [0.403, 292000], "nice": false}, "axis": null},
         "y": {"field": "f", "type": "quantitative", "scale": {"type": "log", "domain": [0.2, 3990], "nice": false}},
         "color": {"field": "s", "type": "nominal", "scale": {"domain": ["BAND","BAND+CUTOFF","Swift/XRT","Swift/BAT","Fermi/GBM (NaI 6)","Fermi/GBM (NaI 7)","Fermi/GBM (BGO 1)","Konus-WIND","Fermi/LAT"], "range": ["#000000","#000000","#e60000","#ffa500","#ffe419","#4dbf4d","#3030d8","#b48ade","#b01cb0"]}}
       }},
      {"transform": [{"filter": "datum.u == 1"}],
       "mark": {"type": "point", "shape": "triangle-down", "filled": true, "size": 75, "opacity": 1, "clip": true},
       "encoding": {
         "x": {"field": "e", "type": "quantitative", "scale": {"type": "log", "domain": [0.403, 292000], "nice": false}, "axis": null},
         "y": {"field": "fl", "type": "quantitative", "scale": {"type": "log", "domain": [0.2, 3990], "nice": false}},
         "color": {"field": "s", "type": "nominal", "scale": {"domain": ["BAND","BAND+CUTOFF","Swift/XRT","Swift/BAT","Fermi/GBM (NaI 6)","Fermi/GBM (NaI 7)","Fermi/GBM (BGO 1)","Konus-WIND","Fermi/LAT"], "range": ["#000000","#000000","#e60000","#ffa500","#ffe419","#4dbf4d","#3030d8","#b48ade","#b01cb0"]}}
       }}
     ]},
    {"data": {"name": "model"},
     "mark": {"type": "line", "clip": true, "strokeWidth": 1.6},
     "encoding": {
       "x": {"field": "e", "type": "quantitative", "scale": {"type": "log", "domain": [0.403, 292000], "nice": false}, "axis": null},
       "y": {"field": "f", "type": "quantitative", "scale": {"type": "log", "domain": [0.2, 3990], "nice": false}},
       "color": {"field": "s", "type": "nominal",
         "scale": {"domain": ["BAND","BAND+CUTOFF","Swift/XRT","Swift/BAT","Fermi/GBM (NaI 6)","Fermi/GBM (NaI 7)","Fermi/GBM (BGO 1)","Konus-WIND","Fermi/LAT"], "range": ["#000000","#000000","#e60000","#ffa500","#ffe419","#4dbf4d","#3030d8","#b48ade","#b01cb0"]},
         "legend": {"orient": "none", "legendX": 19, "legendY": 10, "title": null, "padding": 0, "rowPadding": 2, "clipHeight": 20, "labelOffset": 18, "symbolSize": 324, "symbolStrokeWidth": 1.6, "labelFont": "DejaVu Serif", "labelFontSize": 15, "labelColor": "black", "labelLimit": 0,
           "encode": {"symbols": {"update": {
             "shape": {"signal": "datum.value == 'BAND' || datum.value == 'BAND+CUTOFF' ? 'M-1.7,0H1.7' : 'M-0.95,0H0.95M0,-0.95V0.95M-0.95,-0.45V0.45M0.95,-0.45V0.45M-0.45,-0.95H0.45M-0.45,0.95H0.45'"},
             "strokeDash": {"signal": "datum.value == 'BAND' ? [8,3.5] : [1,0]"},
             "fill": {"value": "transparent"},
             "opacity": {"value": 1}}}}}},
       "strokeDash": {"field": "s", "type": "nominal", "legend": null, "scale": {"domain": ["BAND","BAND+CUTOFF"], "range": [[8,3.5],[1,0]]}}
     }},
    {"data": {"values": [{}]},
     "mark": {"type": "text", "text": ["GRB 220101A", "[93.9-118.3 s]"], "align": "left", "baseline": "top", "font": "DejaVu Serif", "fontSize": 24, "lineHeight": 33.5, "color": "black"},
     "encoding": {
       "x": {"datum": 10250, "type": "quantitative", "scale": {"type": "log", "domain": [0.403, 292000], "nice": false}, "axis": null},
       "y": {"datum": 1.46, "type": "quantitative", "scale": {"type": "log", "domain": [0.2, 3990], "nice": false}}
     }}
  ]
},
{
  "width": 794, "height": 197,
  "layer": [
    {"data": {"name": "pts"},
     "transform": [{"filter": "isValid(datum.r)"}],
     "layer": [
      {"mark": {"type": "rule", "clip": true, "strokeWidth": 2, "opacity": 0.88},
       "encoding": {
         "x": {"field": "el", "type": "quantitative", "scale": {"type": "log", "domain": [0.403, 292000], "nice": false},
               "axis": {"title": "E [keV]", "titlePadding": 8, "labelPadding": 4,
                 "values": [0.5,0.6,0.7,0.8,0.9,1,2,3,4,5,6,7,8,9,10,20,30,40,50,60,70,80,90,100,200,300,400,500,600,700,800,900,1000,2000,3000,4000,5000,6000,7000,8000,9000,10000,20000,30000,40000,50000,60000,70000,80000,90000,100000,200000],
                 "labelExpr": "abs(log(datum.value)/LN10 - round(log(datum.value)/LN10)) < 0.01 ? '10' + ['⁻⁵','⁻⁴','⁻³','⁻²','⁻¹','⁰','¹','²','³','⁴','⁵'][round(log(datum.value)/LN10) + 5] : ''",
                 "tickSize": {"condition": {"test": "abs(log(datum.value)/LN10 - round(log(datum.value)/LN10)) < 0.01", "value": 7.5}, "value": 4}}},
         "x2": {"field": "eh"},
         "y": {"field": "r", "type": "quantitative", "scale": {"domain": [-4.5, 4.5], "nice": false, "zero": false},
               "axis": {"title": "Residuals", "titlePadding": 8, "labelPadding": 5, "values": [-4,-2,0,2,4], "tickSize": 7,
                 "labelExpr": "datum.value < 0 ? '−' + abs(datum.value) : '' + datum.value"}},
         "color": {"field": "s", "type": "nominal", "legend": null, "scale": {"domain": ["BAND","BAND+CUTOFF","Swift/XRT","Swift/BAT","Fermi/GBM (NaI 6)","Fermi/GBM (NaI 7)","Fermi/GBM (BGO 1)","Konus-WIND","Fermi/LAT"], "range": ["#000000","#000000","#e60000","#ffa500","#ffe419","#4dbf4d","#3030d8","#b48ade","#b01cb0"]}}
       }},
      {"mark": {"type": "rule", "clip": true, "strokeWidth": 2, "opacity": 0.88},
       "encoding": {
         "x": {"field": "e", "type": "quantitative", "scale": {"type": "log", "domain": [0.403, 292000], "nice": false}},
         "y": {"field": "rl", "type": "quantitative", "scale": {"domain": [-4.5, 4.5], "nice": false, "zero": false}},
         "y2": {"field": "rh"},
         "color": {"field": "s", "type": "nominal", "legend": null, "scale": {"domain": ["BAND","BAND+CUTOFF","Swift/XRT","Swift/BAT","Fermi/GBM (NaI 6)","Fermi/GBM (NaI 7)","Fermi/GBM (BGO 1)","Konus-WIND","Fermi/LAT"], "range": ["#000000","#000000","#e60000","#ffa500","#ffe419","#4dbf4d","#3030d8","#b48ade","#b01cb0"]}}
       }},
      {"transform": [{"filter": "datum.u != 1"}],
       "mark": {"type": "tick", "orient": "horizontal", "size": 9, "thickness": 1.6, "clip": true, "opacity": 0.88},
       "encoding": {
         "x": {"field": "e", "type": "quantitative", "scale": {"type": "log", "domain": [0.403, 292000], "nice": false}},
         "y": {"field": "rl", "type": "quantitative", "scale": {"domain": [-4.5, 4.5], "nice": false, "zero": false}},
         "color": {"field": "s", "type": "nominal", "legend": null, "scale": {"domain": ["BAND","BAND+CUTOFF","Swift/XRT","Swift/BAT","Fermi/GBM (NaI 6)","Fermi/GBM (NaI 7)","Fermi/GBM (BGO 1)","Konus-WIND","Fermi/LAT"], "range": ["#000000","#000000","#e60000","#ffa500","#ffe419","#4dbf4d","#3030d8","#b48ade","#b01cb0"]}}
       }},
      {"mark": {"type": "tick", "orient": "horizontal", "size": 9, "thickness": 1.6, "clip": true, "opacity": 0.88},
       "encoding": {
         "x": {"field": "e", "type": "quantitative", "scale": {"type": "log", "domain": [0.403, 292000], "nice": false}},
         "y": {"field": "rh", "type": "quantitative", "scale": {"domain": [-4.5, 4.5], "nice": false, "zero": false}},
         "color": {"field": "s", "type": "nominal", "legend": null, "scale": {"domain": ["BAND","BAND+CUTOFF","Swift/XRT","Swift/BAT","Fermi/GBM (NaI 6)","Fermi/GBM (NaI 7)","Fermi/GBM (BGO 1)","Konus-WIND","Fermi/LAT"], "range": ["#000000","#000000","#e60000","#ffa500","#ffe419","#4dbf4d","#3030d8","#b48ade","#b01cb0"]}}
       }},
      {"mark": {"type": "tick", "orient": "vertical", "size": 9, "thickness": 1.6, "clip": true, "opacity": 0.88},
       "encoding": {
         "x": {"field": "el", "type": "quantitative", "scale": {"type": "log", "domain": [0.403, 292000], "nice": false}},
         "y": {"field": "r", "type": "quantitative", "scale": {"domain": [-4.5, 4.5], "nice": false, "zero": false}},
         "color": {"field": "s", "type": "nominal", "legend": null, "scale": {"domain": ["BAND","BAND+CUTOFF","Swift/XRT","Swift/BAT","Fermi/GBM (NaI 6)","Fermi/GBM (NaI 7)","Fermi/GBM (BGO 1)","Konus-WIND","Fermi/LAT"], "range": ["#000000","#000000","#e60000","#ffa500","#ffe419","#4dbf4d","#3030d8","#b48ade","#b01cb0"]}}
       }},
      {"mark": {"type": "tick", "orient": "vertical", "size": 9, "thickness": 1.6, "clip": true, "opacity": 0.88},
       "encoding": {
         "x": {"field": "eh", "type": "quantitative", "scale": {"type": "log", "domain": [0.403, 292000], "nice": false}},
         "y": {"field": "r", "type": "quantitative", "scale": {"domain": [-4.5, 4.5], "nice": false, "zero": false}},
         "color": {"field": "s", "type": "nominal", "legend": null, "scale": {"domain": ["BAND","BAND+CUTOFF","Swift/XRT","Swift/BAT","Fermi/GBM (NaI 6)","Fermi/GBM (NaI 7)","Fermi/GBM (BGO 1)","Konus-WIND","Fermi/LAT"], "range": ["#000000","#000000","#e60000","#ffa500","#ffe419","#4dbf4d","#3030d8","#b48ade","#b01cb0"]}}
       }},
      {"transform": [{"filter": "datum.u == 1"}],
       "mark": {"type": "point", "shape": "triangle-down", "filled": true, "size": 75, "opacity": 1, "clip": true},
       "encoding": {
         "x": {"field": "e", "type": "quantitative", "scale": {"type": "log", "domain": [0.403, 292000], "nice": false}},
         "y": {"field": "rl", "type": "quantitative", "scale": {"domain": [-4.5, 4.5], "nice": false, "zero": false}},
         "color": {"field": "s", "type": "nominal", "legend": null, "scale": {"domain": ["BAND","BAND+CUTOFF","Swift/XRT","Swift/BAT","Fermi/GBM (NaI 6)","Fermi/GBM (NaI 7)","Fermi/GBM (BGO 1)","Konus-WIND","Fermi/LAT"], "range": ["#000000","#000000","#e60000","#ffa500","#ffe419","#4dbf4d","#3030d8","#b48ade","#b01cb0"]}}
       }}
     ]},
    {"data": {"values": [{}]},
     "mark": {"type": "rule", "color": "black", "strokeWidth": 1.5},
     "encoding": {"y": {"datum": 0, "type": "quantitative", "scale": {"domain": [-4.5, 4.5], "nice": false, "zero": false}}}}
  ]
}
]
}
